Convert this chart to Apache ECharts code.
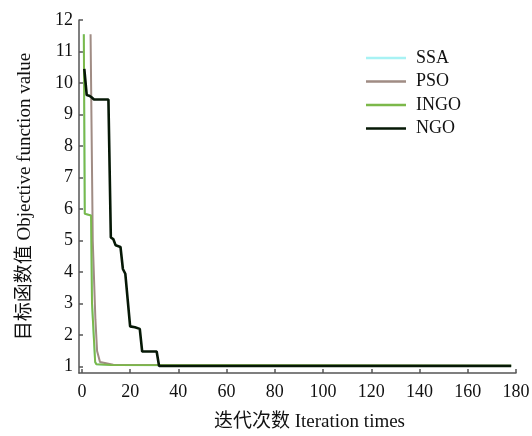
<!DOCTYPE html>
<html><head><meta charset="utf-8">
<script src="https://cdn.jsdelivr.net/npm/echarts@6/dist/echarts.min.js"></script>
<style>html,body{margin:0;padding:0;background:#fff}#c{width:532px;height:436px}</style>
</head><body><div id="c"></div>
<script>
const seriesNames = ['SSA', 'PSO', 'INGO', 'NGO'];
const xTicks = [0, 20, 40, 60, 80, 100, 120, 140, 160, 180];
const yTicks = [1, 2, 3, 4, 5, 6, 7, 8, 9, 10, 11, 12];
const ssaData = [[0.8,11.55],[1.2,5.85],[3.8,5.8],[4.2,3],[5.5,1.15],[6,1.08],[12,1.05],[178,1.03]];
const psoData = [[3.6,11.55],[4.5,5],[5.6,2.5],[6.3,1.5],[6.8,1.45],[7.5,1.15],[8,1.1],[13,1.06],[178,1.04]];
const ingoData = [[0.8,11.55],[1.2,5.85],[3.8,5.8],[4.2,3],[5.5,1.15],[6,1.08],[12,1.05],[178,1.03]];
const ngoData = [[1,10.45],[2,9.62],[3,9.6],[4,9.55],[5,9.48],[11,9.48],[12,5.1],[13,5.05],[14,4.85],[16,4.8],[17,4.1],[18,3.95],[20,2.28],[22,2.25],[24,2.2],[25,1.48],[31,1.48],[32,1.02],[178,1.02]];

const FONT = '"Liberation Serif", "Times New Roman", "Noto Sans CJK SC", serif';
const colors = ['#a8f2f4', '#a08c84', '#7cb84a', '#061806'];
const widths = [2, 2, 2, 2.6];
const datas = [ssaData, psoData, ingoData, ngoData];
const lineIcon = 'path://M0,0 L0.01,0 L0.01,0.01 Z M0,5.7 L40,5.7 L40,8.3 L0,8.3 Z M0,13.99 L0.01,13.99 L0.01,14 Z';

const chart = echarts.init(document.getElementById('c'));
chart.setOption({
  animation: false,
  backgroundColor: '#fff',
  grid: { left: 79, right: 16, top: 20, bottom: 63, outerBoundsMode: 'none' },
  legend: {
    orient: 'vertical', left: 366, top: 49, padding: 0,
    icon: lineIcon,
    itemWidth: 40, itemHeight: 14, itemGap: 5.5,
    itemStyle: { borderWidth: 0 },
    textStyle: { fontFamily: FONT, fontSize: 18, color: '#111', padding: [0,0,0,5] },
    data: seriesNames
  },
  xAxis: {
    type: 'value', min: -1.2, max: 180,
    name: '迭代次数 Iteration times', nameLocation: 'middle', nameGap: 40,
    nameTextStyle: { fontFamily: FONT, fontSize: 19, color: '#111', padding: [0,0,0,24] },
    axisLine: { show: true, onZero: false, lineStyle: { color: '#555', width: 1.5 } },
    axisTick: { show: true, inside: true, length: 4, customValues: xTicks, lineStyle: { color: '#555', width: 1.5 } },
    axisLabel: { customValues: xTicks, fontFamily: FONT, fontSize: 18, color: '#111', margin: 10 },
    splitLine: { show: false }
  },
  yAxis: {
    type: 'value', min: 0.8, max: 12,
    name: '目标函数值 Objective function value', nameLocation: 'middle', nameGap: 44,
    nameTextStyle: { fontFamily: FONT, fontSize: 19, color: '#111' },
    axisLine: { show: true, onZero: false, lineStyle: { color: '#555', width: 1.5 } },
    axisTick: { show: true, inside: true, length: 4, customValues: yTicks, lineStyle: { color: '#555', width: 1.5 } },
    axisLabel: { customValues: yTicks, fontFamily: FONT, fontSize: 18, color: '#111', margin: 6 },
    splitLine: { show: false }
  },
  series: seriesNames.map((n, i) => ({
    name: n, type: 'line', data: datas[i], symbol: 'none', showSymbol: false,
    color: colors[i], lineStyle: { color: colors[i], width: widths[i] }, z: 2 + i
  }))
});
</script></body></html>
